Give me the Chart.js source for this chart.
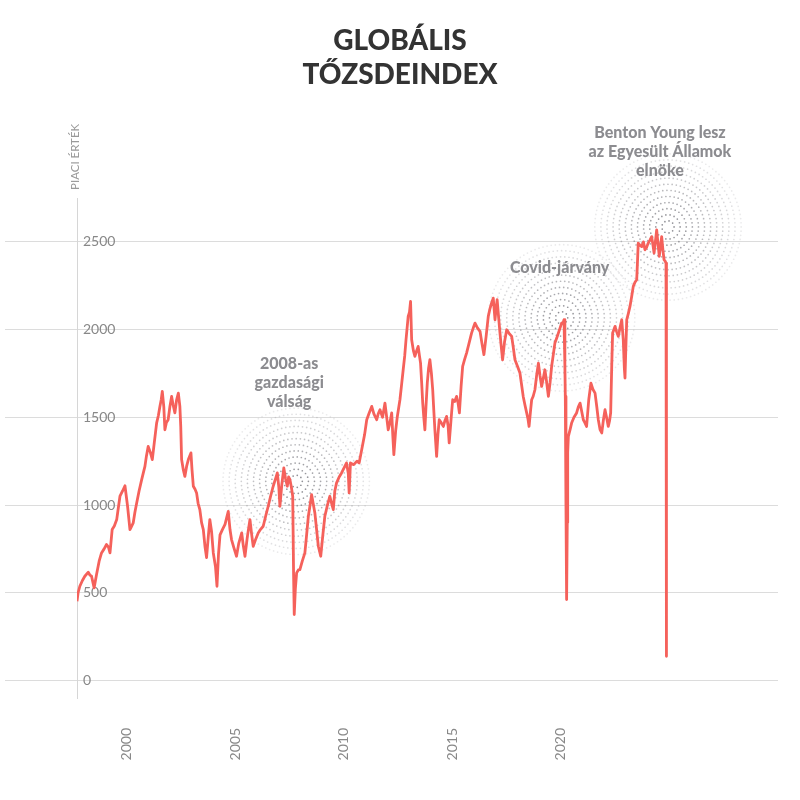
<!DOCTYPE html>
<html><head><meta charset="utf-8">
<script src="https://cdn.jsdelivr.net/npm/chart.js@4"></script>
<style>html,body{margin:0;padding:0;background:#fff}canvas{display:block}</style>
</head><body>
<canvas id="c" width="800" height="800" style="width:800px;height:800px"></canvas>
<script>
const years = [
1997.7,1997.75,1997.83,1997.95,1998.06,1998.22,1998.30,1998.37,1998.49,1998.60,1998.72,1998.83,1998.95,1999.06,1999.15,1999.22,1999.32,1999.42,1999.53,1999.60,1999.68,1999.80,1999.91,
2000.03,2000.14,2000.22,2000.29,2000.37,2000.45,2000.56,2000.68,2000.75,2000.83,2000.90,2000.98,2001.08,2001.17,2001.26,2001.37,2001.45,2001.52,2001.58,2001.63,2001.70,2001.75,2001.82,2001.90,2001.98,
2002.06,2002.13,2002.21,2002.29,2002.37,2002.44,2002.48,2002.52,2002.60,2002.67,2002.75,2002.83,2002.95,2003.00,2003.06,2003.14,2003.21,2003.28,2003.36,2003.44,2003.52,2003.60,2003.67,2003.75,2003.82,2003.90,2003.98,
2004.08,2004.15,2004.22,2004.29,2004.40,2004.52,2004.60,2004.67,2004.75,2004.82,2004.92,2005.05,2005.15,2005.29,2005.36,2005.44,2005.55,2005.67,2005.75,2005.82,2005.92,
2006.05,2006.15,2006.28,2006.40,2006.51,2006.62,2006.74,2006.85,2006.93,2007.00,2007.05,2007.14,2007.23,2007.31,2007.39,2007.45,2007.51,2007.58,2007.64,2007.68,2007.71,2007.76,2007.82,2007.90,2007.97,
2008.08,2008.20,2008.28,2008.36,2008.44,2008.51,2008.58,2008.66,2008.74,2008.82,2008.93,2009.02,2009.12,2009.24,2009.35,2009.43,2009.51,2009.58,2009.66,2009.78,2009.89,
2010.00,2010.12,2010.20,2010.24,2010.30,2010.45,2010.60,2010.70,2010.82,2010.95,2011.05,2011.15,2011.28,2011.38,2011.51,2011.58,2011.66,2011.78,2011.89,2011.97,
2012.04,2012.12,2012.20,2012.25,2012.30,2012.38,2012.46,2012.58,2012.66,2012.73,2012.80,2012.86,2012.96,2013.02,2013.07,2013.12,2013.20,2013.27,2013.35,2013.42,2013.48,2013.53,2013.58,2013.63,2013.68,2013.73,2013.78,2013.84,2013.90,2013.96,
2014.03,2014.09,2014.14,2014.19,2014.27,2014.33,2014.39,2014.48,2014.58,2014.65,2014.73,2014.80,2014.85,2014.93,2015.01,2015.10,2015.19,2015.26,2015.32,2015.40,2015.47,2015.56,2015.65,2015.76,2015.88,2015.96,
2016.04,2016.15,2016.27,2016.36,2016.45,2016.55,2016.65,2016.73,2016.80,2016.88,2016.96,2017.01,2017.06,2017.12,2017.19,2017.25,2017.31,2017.40,2017.50,2017.60,2017.73,2017.80,2017.88,
2018.00,2018.11,2018.18,2018.26,2018.34,2018.42,2018.48,2018.53,2018.60,2018.65,2018.72,2018.80,2018.88,2018.96,2019.03,2019.11,2019.18,2019.26,2019.34,2019.42,2019.50,2019.57,2019.65,2019.72,2019.80,2019.88,2019.96,
2020.03,2020.10,2020.14,2020.18,2020.20,2020.23,2020.26,2020.29,2020.31,2020.34,2020.42,2020.49,2020.60,2020.72,2020.80,2020.88,2020.96,2021.03,2021.10,2021.18,2021.28,2021.38,2021.47,2021.57,2021.65,2021.72,2021.80,2021.88,2021.95,
2022.03,2022.10,2022.18,2022.24,2022.29,2022.34,2022.38,2022.44,2022.49,2022.56,2022.64,2022.72,2022.80,2022.87,2022.92,2022.95,2022.99,2023.03,2023.10,2023.18,2023.26,2023.33,2023.41,2023.49,2023.53,2023.56,2023.64,2023.72,2023.80,2023.87,2023.95,
2024.02,2024.10,2024.18,2024.24,2024.29,2024.35,2024.41,2024.47,2024.53,2024.58,2024.64,2024.70,2024.75,2024.80,2024.84,2024.86
];
const values = [
451,500,537,570,594,617,600,594,528,604,680,727,750,775,760,727,860,880,917,980,1050,1080,1110,
993,860,880,898,960,1012,1080,1145,1180,1220,1280,1334,1300,1259,1354,1468,1510,1562,1600,1648,1560,1429,1470,1486,1560,
1619,1570,1525,1600,1638,1562,1450,1259,1200,1163,1220,1259,1297,1200,1107,1090,1069,1010,974,900,860,760,700,820,917,850,727,
650,537,720,830,860,890,930,964,860,803,760,708,780,841,770,708,820,917,830,765,800,
841,860,879,940,993,1050,1107,1150,1183,1100,993,1120,1211,1150,1107,1160,1145,1100,1050,600,376,520,613,630,632,
680,727,830,936,1000,1059,1010,955,860,765,708,820,936,1000,1050,1010,974,1080,1126,1160,1183,
1210,1240,1180,1069,1240,1230,1250,1240,1316,1400,1486,1520,1562,1520,1486,1520,1543,1500,1581,1500,
1429,1470,1525,1400,1287,1420,1505,1600,1690,1771,1850,1942,2075,2100,2160,1942,1880,1847,1880,1904,1850,1809,1700,1581,1500,1429,1560,1695,1780,1828,
1750,1657,1540,1429,1277,1400,1486,1470,1448,1480,1505,1450,1354,1480,1600,1590,1619,1580,1525,1680,1790,1830,1866,1920,1980,2010,
2037,2010,1990,1920,1857,1960,2075,2120,2150,2179,2056,2120,2170,2080,1980,1900,1828,1930,1999,1980,1961,1900,1828,
1790,1752,1690,1619,1570,1525,1490,1448,1540,1600,1620,1657,1740,1809,1740,1676,1720,1771,1700,1619,1700,1790,1860,1923,1950,1980,2010,
2037,2040,2056,1800,1619,1000,461,900,1300,1391,1430,1467,1500,1525,1560,1581,1530,1486,1470,1448,1600,1695,1660,1638,1560,1486,1430,1411,1480,
1543,1500,1448,1480,1525,1800,1980,2000,2018,1990,1961,2010,2056,1942,1780,1724,1900,2056,2090,2132,2190,2245,2270,2284,2400,2493,2480,2473,2500,2455,2470,
2493,2510,2530,2480,2436,2500,2568,2490,2417,2470,2530,2450,2398,2390,2379,138
];
const xTickValues = [2000, 2005, 2010, 2015, 2020];
const yTickValues = [0, 500, 1000, 1500, 2000, 2500];
const titleLines = ['GLOBÁLIS', 'TŐZSDEINDEX'];
const yAxisLabel = 'PIACI ÉRTÉK';
const eventYears = [2007.8, 2020.03, 2024.93];
const eventValues = [1135, 2067, 2585];
const eventLabels = [
  ['2008-as', 'gazdasági', 'válság'],
  ['Covid-járvány'],
  ['Benton Young lesz', 'az Egyesült Államok', 'elnöke']
];

// label placement (pixel offsets of last text line from ring centre)
const labelOffsets = [{dx: -7, dy: -79}, {dx: -2, dy: -50}, {dx: -8, dy: -56}];

const deco = {
  id: 'deco',
  beforeDatasetsDraw(chart) {
    const {ctx, scales: {x, y}} = chart;
    ctx.save();
    eventYears.forEach((ey, i) => {
      const cx = x.getPixelForValue(ey), cy = y.getPixelForValue(eventValues[i]);
      for (let k = 1; k <= 12; k++) {
        const r = k * 6.1;
        const n = Math.max(6, Math.round(2 * Math.PI * r / 4.2));
        const a = Math.max(0.15, 0.85 - k * 0.058);
        ctx.fillStyle = 'rgba(115,115,122,' + a + ')';
        for (let j = 0; j < n; j++) {
          const t = j / n * 2 * Math.PI;
          ctx.beginPath();
          ctx.arc(cx + r * Math.cos(t), cy + r * Math.sin(t), 0.85, 0, 2 * Math.PI);
          ctx.fill();
        }
      }
    });
    ctx.restore();
  },
  afterDatasetsDraw(chart) {
    const {ctx, scales: {x, y}} = chart;
    ctx.save();
    ctx.font = '900 16px Lato';
    ctx.fillStyle = '#8c8c90';
    ctx.textAlign = 'center';
    ctx.textBaseline = 'middle';
    eventYears.forEach((ey, i) => {
      const cx = x.getPixelForValue(ey), cy = y.getPixelForValue(eventValues[i]);
      const lines = eventLabels[i];
      const off = labelOffsets[i];
      lines.forEach((t, j) => {
        ctx.fillText(t, cx + off.dx, cy + off.dy - (lines.length - 1 - j) * 19);
      });
    });
    ctx.restore();
  },
  afterDraw(chart) {
    const {ctx, chartArea} = chart;
    ctx.save();
    ctx.font = '900 28px Lato';
    ctx.fillStyle = '#333333';
    ctx.textAlign = 'center';
    ctx.textBaseline = 'middle';
    titleLines.forEach((t, i) => ctx.fillText(t, chart.width / 2, 41 + i * 34));
    ctx.translate(chartArea.left - 2, chartArea.top - 8);
    ctx.rotate(-Math.PI / 2);
    ctx.font = '11.5px Lato';
    ctx.fillStyle = '#999999';
    ctx.textAlign = 'left';
    ctx.fillText(yAxisLabel, 0, 0);
    ctx.restore();
  }
};

new Chart(document.getElementById('c'), {
  type: 'line',
  data: {
    datasets: [{
      data: years.map((yr, i) => ({x: yr, y: values[i]})),
      borderColor: '#f5615b',
      borderWidth: 2.8,
      pointRadius: 0,
      tension: 0,
      borderJoinStyle: 'round',
      fill: false
    }]
  },
  options: {
    responsive: false,
    animation: false,
    devicePixelRatio: 1,
    layout: {padding: {top: 198, left: 5, right: 22, bottom: 40}},
    plugins: {legend: {display: false}, tooltip: {enabled: false}, title: {display: false}},
    scales: {
      x: {
        type: 'linear', min: 1997.7, max: 2030,
        afterBuildTicks: s => { s.ticks = xTickValues.map(v => ({value: v})); },
        afterFit: s => { s.paddingLeft = 0; s.paddingRight = 0; s.height = 62; },
        grid: {display: false, drawTicks: false},
        border: {display: false},
        ticks: {minRotation: 90, maxRotation: 90, autoSkip: false, padding: 30, color: '#888',
          font: {family: 'Lato', size: 14}, callback: v => String(v)}
      },
      y: {
        type: 'linear', min: -100, max: 2750,
        afterBuildTicks: s => { s.ticks = yTickValues.map(v => ({value: v})); },
        afterFit: s => { s.width = 72; s.paddingTop = 0; s.paddingBottom = 0; },
        grid: {color: '#dcdcdc', lineWidth: 1, drawTicks: true, tickLength: 72, tickColor: '#dcdcdc'},
        border: {display: true, color: '#d6d6d6', width: 1},
        ticks: {mirror: true, padding: 6, color: '#888', font: {family: 'Lato', size: 14}, callback: v => String(v)}
      }
    }
  },
  plugins: [deco]
});
</script>
</body></html>
